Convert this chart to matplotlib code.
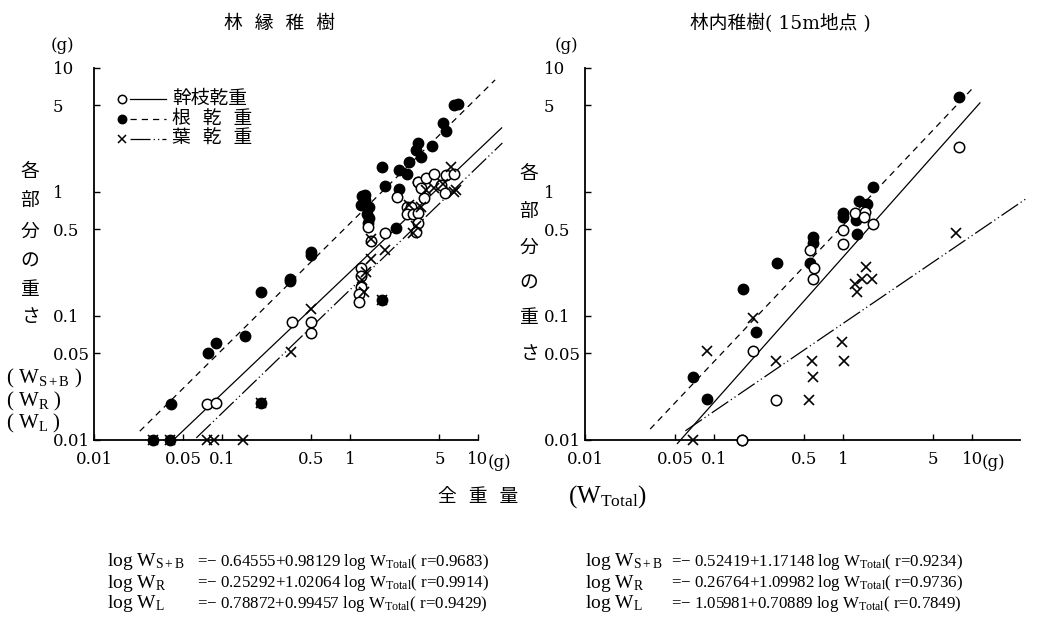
import numpy as np
import matplotlib.pyplot as plt
from matplotlib.lines import Line2D
from matplotlib.ticker import NullLocator

plt.rcParams['font.family'] = ['DejaVu Serif', 'Noto Sans CJK JP']
plt.rcParams['mathtext.fontset'] = 'custom'
plt.rcParams['mathtext.rm'] = 'Liberation Serif'
plt.rcParams['mathtext.it'] = 'Liberation Serif:italic'
plt.rcParams['mathtext.bf'] = 'Liberation Serif:bold'

# ---- 林縁稚樹 (forest edge) ----
edge_stem_x = [0.076, 0.089, 0.35, 0.5, 0.5, 1.22, 1.22, 1.22, 1.18, 1.18, 1.46, 1.87, 1.38, 2.35,
               2.8, 3.0, 2.78, 3.1, 3.4, 3.38, 3.3, 3.8, 5.1, 5.5, 3.4, 3.9, 4.5, 5.6, 6.5, 3.6]
edge_stem_y = [0.0195, 0.02, 0.09, 0.09, 0.073, 0.245, 0.21, 0.17, 0.15, 0.13, 0.4, 0.47, 0.52, 0.91,
               0.76, 0.75, 0.66, 0.66, 0.68, 0.56, 0.48, 0.89, 1.14, 0.98, 1.2, 1.3, 1.4, 1.37, 1.4, 1.08]
edge_root_x = [0.029, 0.039, 0.04, 0.078, 0.089, 0.15, 0.2, 0.2, 0.34, 0.34, 0.5, 0.5, 1.77, 2.3,
               1.24, 1.32, 1.22, 1.4, 1.36, 1.4, 1.38, 1.3, 1.77, 1.87, 2.4, 2.4, 2.8, 2.9, 3.25,
               3.6, 3.4, 4.4, 3.4, 5.3, 5.6, 6.5, 7.0]
edge_root_y = [0.01, 0.01, 0.0195, 0.05, 0.061, 0.069, 0.155, 0.02, 0.2, 0.19, 0.33, 0.31, 0.135, 0.51,
               0.93, 0.86, 0.79, 0.75, 0.66, 0.62, 0.56, 0.95, 1.6, 1.12, 1.05, 1.5, 1.4, 1.75, 2.2,
               1.9, 2.5, 2.35, 1.2, 3.6, 3.1, 5.0, 5.1]
edge_leaf_x = [0.029, 0.039, 0.077, 0.087, 0.147, 0.2, 0.345, 0.5, 1.46, 1.87, 1.46, 1.33, 1.25, 1.28,
               3.1, 3.3, 2.9, 3.6, 4.5, 6.5, 5.3, 6.2, 6.7, 3.9, 1.77]
edge_leaf_y = [0.01, 0.01, 0.01, 0.01, 0.01, 0.02, 0.051, 0.114, 0.42, 0.34, 0.29, 0.225, 0.195, 0.157,
               0.47, 0.53, 0.78, 0.75, 1.08, 1.0, 1.16, 1.6, 1.04, 1.04, 0.135]

# ---- 林内稚樹 (inside forest, 15 m) ----
inner_stem_x = [7.9, 1.24, 1.48, 1.45, 1.7, 1.0, 1.0, 0.555, 0.6, 0.585, 0.2, 0.3, 0.165]
inner_stem_y = [2.3, 0.68, 0.69, 0.63, 0.55, 0.49, 0.38, 0.34, 0.245, 0.2, 0.052, 0.021, 0.01]
inner_root_x = [7.9, 1.7, 1.33, 1.53, 1.0, 1.0, 1.26, 1.28, 0.585, 0.585, 0.555, 0.31, 0.168,
                0.21, 0.069, 0.088, 0.165]
inner_root_y = [5.8, 1.1, 0.85, 0.8, 0.68, 0.63, 0.6, 0.46, 0.43, 0.39, 0.27, 0.27, 0.165,
                0.074, 0.032, 0.0215, 0.01]
inner_leaf_x = [7.5, 1.5, 1.4, 1.68, 1.24, 1.28, 0.2, 0.088, 0.3, 0.575, 0.58, 0.545, 0.98, 1.02, 0.069]
inner_leaf_y = [0.47, 0.25, 0.2, 0.2, 0.18, 0.155, 0.096, 0.052, 0.043, 0.043, 0.0323, 0.021, 0.062,
                0.043, 0.01]

# regression: log W = a + b log Wtotal, drawn from x0 to x1  (stem, root, leaf)
edge_a = [-0.64555, -0.25292, -0.78872]
edge_b = [0.98129, 1.02064, 0.99457]
edge_x0 = [0.043, 0.0228, 0.063]
edge_x1 = [15.3, 13.6, 15.5]
inner_a = [-0.52419, -0.26764, -1.05981]
inner_b = [1.17148, 1.09982, 0.70889]
inner_x0 = [0.052, 0.032, 0.06]
inner_x1 = [11.5, 10.2, 27.0]

tick_vals = [0.01, 0.05, 0.1, 0.5, 1, 5, 10]
tick_text = ['0.01', '0.05', '0.1', '0.5', '1', '5', '10']

line_styles = ['-', (0, (5, 4)), (0, (16, 2.5, 1, 2.5, 1, 2.5))]

W, H = 1049, 624
fig = plt.figure(figsize=(W / 100, H / 100), dpi=100)
EQ_FONT = ['Liberation Serif', 'Noto Sans CJK JP']


def ftext(px, py, s, **kw):
    fig.text(px / W, 1 - py / H, s, **kw)


def panel(rect, xmax, stem, root, leaf, a, b, x0, x1):
    ax = fig.add_axes(rect)
    ax.set_xscale('log')
    ax.set_yscale('log')
    ax.set_xlim(0.01, xmax)
    ax.set_ylim(0.01, 10)
    for s in ['top', 'right']:
        ax.spines[s].set_visible(False)
    for s in ['left', 'bottom']:
        ax.spines[s].set_linewidth(1.3)
    ax.set_xticks(tick_vals)
    ax.set_xticklabels(tick_text)
    ax.set_yticks(tick_vals)
    ax.set_yticklabels(tick_text)
    ax.xaxis.set_minor_locator(NullLocator())
    ax.yaxis.set_minor_locator(NullLocator())
    ax.tick_params(axis='both', direction='in', length=4, width=1, labelsize=12)
    ax.tick_params(axis='y', pad=29.5)
    ax.tick_params(axis='x', pad=8)
    plt.setp(ax.get_yticklabels(), ha='left')
    for i in range(3):
        xs = np.array([x0[i], x1[i]])
        ax.plot(xs, 10 ** (a[i] + b[i] * np.log10(xs)), color='k', lw=0.9,
                ls=line_styles[i], clip_on=False)
    ax.plot(root[0], root[1], 'o', ms=7.5, color='k', clip_on=False, zorder=3)
    ax.plot(stem[0], stem[1], 'o', ms=7.5, mfc='white', mec='k', mew=1.1, clip_on=False, zorder=4)
    ax.plot(leaf[0], leaf[1], 'x', ms=7, mec='k', mew=1.2, clip_on=False, zorder=5)
    ax.annotate('(g)', xy=(10, 0), xycoords=('data', 'axes fraction'), xytext=(7, -16.5),
                textcoords='offset points', ha='left', va='center', fontsize=12)
    return ax


ax1 = panel([94 / W, 1 - 440 / H, 384 / W, 372 / H], 10,
            (edge_stem_x, edge_stem_y), (edge_root_x, edge_root_y), (edge_leaf_x, edge_leaf_y),
            edge_a, edge_b, edge_x0, edge_x1)
ax2 = panel([585 / W, 1 - 440 / H, 435 / W, 372 / H], 23.5,
            (inner_stem_x, inner_stem_y), (inner_root_x, inner_root_y), (inner_leaf_x, inner_leaf_y),
            inner_a, inner_b, inner_x0, inner_x1)

# titles
ftext(279, 24, '林  縁  稚  樹', ha='center', va='center', fontsize=13.5)
ftext(780, 24, '林内稚樹( 15m地点 )', ha='center', va='center', fontsize=13.5)
ftext(62, 45, '(g)', ha='center', va='center', fontsize=12)
ftext(566, 45, '(g)', ha='center', va='center', fontsize=12)

# vertical y labels
for ch, py in zip('各部分の重さ', [172, 201, 232, 262, 290, 317]):
    ftext(30, py, ch, ha='center', va='center', fontsize=13.5)
for ch, py in zip('各部分の重さ', [174, 212, 248, 284, 318, 354]):
    ftext(529, py, ch, ha='center', va='center', fontsize=13.5)

ftext(6, 378, r'( W$_{\mathrm{S+B}}$ )', ha='left', va='center', fontsize=15, family=EQ_FONT)
ftext(6, 401, r'( W$_{\mathrm{R}}$ )', ha='left', va='center', fontsize=15, family=EQ_FONT)
ftext(6, 423, r'( W$_{\mathrm{L}}$ )', ha='left', va='center', fontsize=15, family=EQ_FONT)

# legend (left panel)
leg_labels = ['幹枝乾重', '根  乾  重', '葉  乾  重']
leg_markers = [dict(marker='o', mfc='white', mec='k'), dict(marker='o', mfc='k', mec='k'),
               dict(marker='x', mec='k')]
for i, py in enumerate([99, 119, 139]):
    y = 1 - py / H
    fig.add_artist(Line2D([130 / W, 166 / W], [y, y], color='k', lw=0.9, ls=line_styles[i]))
    fig.add_artist(Line2D([122 / W], [y], ms=6, mew=1.1, ls='none', **leg_markers[i]))
    ftext(172, py, leg_labels[i], ha='left', va='center', fontsize=13.5)

# x label
ftext(478, 497, '全  重  量', ha='center', va='center', fontsize=13.5)
ftext(607, 497, r'(W$_{\mathrm{Total}}$)', ha='center', va='center', fontsize=18, family=EQ_FONT)

# equations
eq_left = ['0.64555+0.98129', '0.25292+1.02064', '0.78872+0.99457']
eq_left_r = ['0.9683', '0.9914', '0.9429']
eq_right = ['0.52419+1.17148', '0.26764+1.09982', '1.05981+0.70889']
eq_right_r = ['0.9234', '0.9736', '0.7849']
eq_sub = ['S+B', 'R', 'L']
for i, py in enumerate([562, 583, 604]):
    for x0, xe, coef, r in [(107, 197, eq_left, eq_left_r), (585, 671, eq_right, eq_right_r)]:
        ftext(x0, py, r'log W$_{\mathrm{%s}}$' % eq_sub[i], ha='left', va='center',
              fontsize=14, family=EQ_FONT)
        ftext(xe, py, r'=$-$ %s log W$_{\mathrm{Total}}$( r=%s)' % (coef[i], r[i]),
              ha='left', va='center', fontsize=12.2, family=EQ_FONT)

fig.savefig('out.png', dpi=100)
